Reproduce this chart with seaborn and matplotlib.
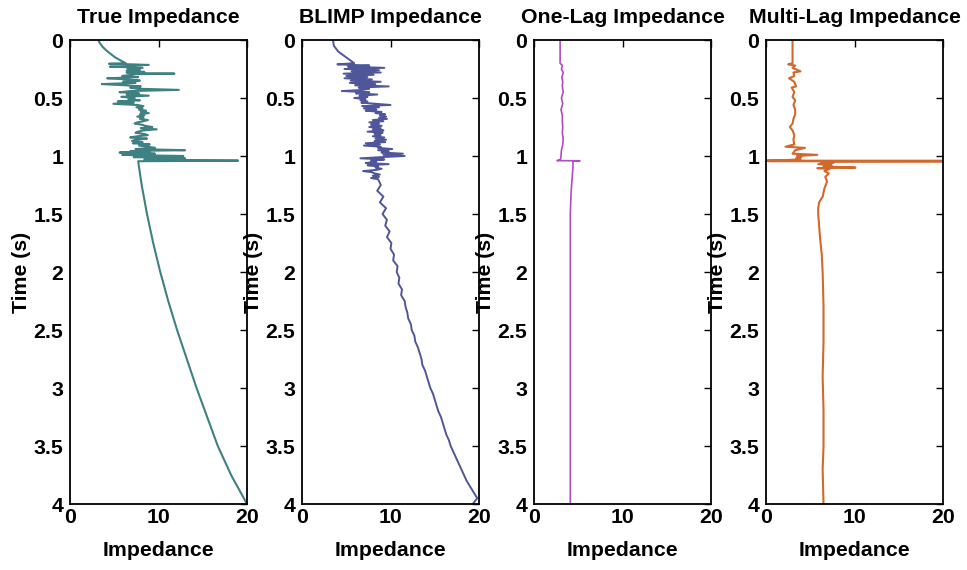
import numpy as np
import pandas as pd
import matplotlib
matplotlib.use("Agg")
import matplotlib.pyplot as plt
import seaborn as sns

# ---------------- data ----------------
titles = ["True Impedance", "BLIMP Impedance", "One-Lag Impedance", "Multi-Lag Impedance"]
colors = ["#3f8082", "#4f5699", "#b04cc0", "#d2682a"]
x_ticks = [0, 10, 20]
x_tick_labels = ["0", "10", "20"]
y_ticks = [0, 0.5, 1, 1.5, 2, 2.5, 3, 3.5, 4]
y_tick_labels = ["0", "0.5", "1", "1.5", "2", "2.5", "3", "3.5", "4"]

true_t = [0, 0.03, 0.06, 0.09, 0.12, 0.15, 0.18,
          0.20, 0.205, 0.21, 0.215, 0.22, 0.225, 0.23, 0.235, 0.24, 0.245,
          0.25, 0.255, 0.26, 0.265, 0.27, 0.275, 0.28, 0.285, 0.29, 0.295,
          0.30, 0.31, 0.32, 0.33, 0.34, 0.35, 0.36, 0.37, 0.38, 0.39,
          0.40, 0.41, 0.42, 0.43, 0.44, 0.45, 0.46, 0.47, 0.48, 0.49,
          0.50, 0.51, 0.52, 0.53, 0.54, 0.55, 0.56, 0.57, 0.58, 0.59,
          0.60, 0.61, 0.62, 0.63, 0.64, 0.65, 0.66, 0.67, 0.68, 0.69,
          0.70, 0.71, 0.72, 0.73, 0.74, 0.75, 0.76, 0.77, 0.78, 0.79,
          0.80, 0.81, 0.82, 0.83, 0.84, 0.85, 0.86, 0.87, 0.88, 0.89,
          0.90, 0.91, 0.92, 0.93, 0.94, 0.95, 0.955, 0.96, 0.965, 0.97,
          0.975, 0.98, 0.985, 0.99, 0.995, 1.00, 1.005, 1.01, 1.015, 1.02,
          1.025, 1.03, 1.035, 1.04, 1.045,
          1.25, 1.5, 1.75, 2.0, 2.25, 2.5, 2.75, 3.0, 3.25, 3.5, 3.75, 4.0]
true_v = [3.2, 3.4, 3.7, 4.1, 4.6, 5.1, 5.8,
          6.3, 4.4, 7.0, 8.9, 6.6, 7.3, 4.5, 6.9, 8.2, 6.5,
          6.8, 7.9, 7.6, 6.4, 7.2, 8.4, 6.4, 7.0, 11.8, 7.3,
          7.0, 5.9, 7.7, 4.2, 6.5, 7.9, 6.0, 7.4, 3.6, 6.2,
          8.0, 6.8, 7.6, 12.3, 6.9, 5.6, 7.8, 6.4, 8.9, 5.8,
          7.3, 6.6, 7.9, 5.4, 7.2, 4.9, 7.6, 8.3, 7.5, 8.2,
          7.8, 8.6, 8.0, 8.9, 7.9, 8.4, 7.6, 8.3, 7.9, 8.8,
          8.3, 7.6, 7.3, 8.1, 8.5, 9.3, 8.0, 9.8, 8.2, 7.7,
          7.4, 8.4, 8.8, 7.6, 6.8, 8.7, 7.4, 7.0, 8.2, 7.1,
          9.0, 7.8, 8.8, 9.6, 7.4, 13.0, 8.2, 6.8, 9.0, 5.6,
          8.0, 9.6, 7.5, 5.9, 8.8, 12.8, 8.1, 7.2, 10.5, 13.0,
          8.6, 8.4, 12.9, 19.0, 7.7,
          8.1, 8.7, 9.4, 10.2, 11.1, 12.1, 13.2, 14.3, 15.5, 16.7, 18.2, 20.0]

blimp_t = [0, 0.05, 0.10, 0.15,
           0.20, 0.21, 0.22, 0.23, 0.24, 0.25, 0.26, 0.27, 0.28, 0.29,
           0.30, 0.31, 0.32, 0.33, 0.34, 0.35, 0.36, 0.37, 0.38, 0.39,
           0.40, 0.41, 0.42, 0.43, 0.44, 0.45, 0.46, 0.47, 0.48, 0.49,
           0.50, 0.51, 0.52, 0.53, 0.54, 0.55, 0.56, 0.57, 0.58, 0.59,
           0.60, 0.61, 0.62, 0.63, 0.64, 0.65, 0.66, 0.67, 0.68, 0.69,
           0.70, 0.71, 0.72, 0.73, 0.74, 0.75, 0.76, 0.77, 0.78, 0.79,
           0.80, 0.81, 0.82, 0.83, 0.84, 0.85, 0.86, 0.87, 0.88, 0.89,
           0.90, 0.91, 0.92, 0.93, 0.94, 0.95, 0.96, 0.97, 0.98, 0.99,
           1.00, 1.01, 1.02, 1.03, 1.04, 1.05, 1.06, 1.07, 1.08, 1.09,
           1.10, 1.11, 1.12, 1.13, 1.14, 1.15, 1.16, 1.17, 1.18, 1.19, 1.20,
           1.25, 1.30, 1.35, 1.40, 1.45, 1.50, 1.55, 1.60, 1.65, 1.70,
           1.75, 1.80, 1.85, 1.90, 1.95, 2.00, 2.05, 2.10, 2.15, 2.20,
           2.25, 2.30, 2.35, 2.40, 2.45, 2.50, 2.55, 2.60, 2.65, 2.70,
           2.75, 2.80, 2.85, 2.90, 2.95, 3.00, 3.05, 3.10, 3.15, 3.20,
           3.25, 3.30, 3.35, 3.40, 3.45, 3.50, 3.55, 3.60, 3.65, 3.70,
           3.75, 3.80, 3.85, 3.90, 3.95, 4.00]
blimp_v = [3.5, 3.6, 4.1, 5.0,
           5.9, 4.0, 7.6, 5.2, 9.3, 4.8, 8.7, 5.6, 8.9, 4.7,
           8.1, 5.0, 7.4, 4.8, 7.9, 5.5, 8.9, 5.4, 8.3, 6.0,
           9.8, 6.4, 7.6, 6.9, 4.5, 7.6, 6.1, 8.5, 6.5, 7.4,
           5.9, 7.2, 6.6, 7.4, 6.7, 8.4, 10.0, 6.8, 8.7, 7.0,
           8.4, 7.2, 9.0, 8.3, 9.4, 8.8, 9.5, 8.7, 9.6, 8.0,
           9.2, 7.6, 8.7, 7.8, 9.0, 7.6, 8.9, 8.0, 9.2, 7.4,
           9.1, 8.2, 8.9, 8.0, 9.3, 8.3, 9.5, 8.2, 9.4, 7.2,
           8.8, 7.0, 8.9, 8.6, 10.2, 8.6, 9.8, 9.0, 11.4, 9.2,
           11.6, 8.9, 6.6, 9.3, 7.8, 8.4, 7.2, 9.8, 7.4, 8.6,
           8.3, 9.0, 8.4, 6.9, 7.9, 8.2, 8.8, 8.0, 8.7, 7.8, 8.6,
           8.9, 8.5, 9.2, 8.8, 9.5, 9.1, 9.6, 9.4, 9.9, 9.6,
           10.1, 10.0, 10.4, 10.3, 10.8, 10.7, 11.0, 10.9, 11.3, 11.2,
           11.6, 11.7, 11.9, 12.0, 12.3, 12.4, 12.7, 12.8, 13.1, 13.3,
           13.5, 13.6, 13.9, 14.1, 14.3, 14.5, 14.8, 15.0, 15.2, 15.4,
           15.7, 15.9, 16.1, 16.3, 16.6, 16.8, 17.1, 17.4, 17.7, 18.0,
           18.3, 18.6, 19.0, 19.4, 19.8, 19.3]

onelag_t = [0, 0.20, 0.22, 0.25, 0.28, 0.32, 0.36, 0.40, 0.45, 0.50, 0.55,
            0.60, 0.65, 0.70, 0.75, 0.80, 0.85, 0.90, 0.95, 1.00, 1.03,
            1.04, 1.041, 1.045, 1.10, 1.20, 1.30, 1.40, 1.50, 2.0, 2.5,
            3.0, 3.5, 4.0]
onelag_v = [2.95, 2.95, 3.2, 3.1, 3.3, 3.15, 3.25, 3.2, 3.3, 3.1, 3.25,
            3.05, 3.2, 3.2, 3.25, 3.2, 3.3, 3.25, 3.1, 3.05, 3.0,
            2.6, 5.2, 4.4, 4.4, 4.3, 4.2, 4.15, 4.1, 4.1, 4.1,
            4.1, 4.1, 4.1]

multilag_t = [0, 0.20, 0.21, 0.22, 0.24, 0.27, 0.28, 0.31, 0.33, 0.36, 0.40,
              0.41, 0.45, 0.49, 0.52, 0.56, 0.60, 0.64, 0.68, 0.72, 0.75,
              0.78, 0.82, 0.86, 0.90, 0.92, 0.93, 0.95, 0.98, 0.99, 1.00,
              1.01, 1.02, 1.03, 1.040, 1.042, 1.044, 1.046, 1.048,
              1.05, 1.06, 1.07, 1.08, 1.09, 1.10, 1.105, 1.11, 1.13, 1.15,
              1.18, 1.22, 1.28, 1.35, 1.40, 1.45, 1.50, 1.60, 1.70, 1.85,
              2.0, 2.3, 2.6, 2.9, 3.2, 3.5, 3.7, 4.0]
multilag_v = [3.0, 3.0, 2.5, 3.3, 3.0, 3.9, 3.1, 3.2, 2.6, 3.2, 3.4,
              2.9, 3.2, 3.0, 3.3, 3.1, 3.3, 3.3, 3.1, 3.0, 2.7,
              3.0, 3.2, 3.1, 3.2, 2.2, 4.4, 3.3, 3.0, 5.8, 3.5,
              4.0, 3.4, 3.9, 0.1, 20.0, 0.3, 20.0, 6.5,
              6.2, 7.6, 5.9, 7.4, 6.5, 10.1, 5.8, 7.2, 6.6, 7.1,
              6.7, 6.9, 6.6, 6.4, 6.0, 5.9, 5.9, 6.0, 6.1, 6.3,
              6.4, 6.5, 6.5, 6.4, 6.5, 6.5, 6.4, 6.5]

series_t = [true_t, blimp_t, onelag_t, multilag_t]
series_v = [true_v, blimp_v, onelag_v, multilag_v]
line_widths = [1.5, 1.4, 1.2, 1.5]

# ---------------- style ----------------
sns.set_style("white")
plt.rcParams["font.family"] = ["Liberation Sans", "DejaVu Sans"]
plt.rcParams["font.weight"] = "bold"
plt.rcParams["axes.titleweight"] = "bold"
plt.rcParams["axes.labelweight"] = "bold"
plt.rcParams["text.color"] = "black"
plt.rcParams["axes.labelcolor"] = "black"
plt.rcParams["xtick.color"] = "black"
plt.rcParams["ytick.color"] = "black"

W, H = 967, 570
fig = plt.figure(figsize=(W / 100, H / 100), dpi=100)
lefts = [70, 302, 534, 766]
ax_w = 177
top_px, bot_px = 40, 504
fs = 15.3

for i in range(4):
    ax = fig.add_axes([lefts[i] / W, 1 - bot_px / H, ax_w / W, (bot_px - top_px) / H])
    df = pd.DataFrame({"Impedance": series_v[i], "Time": series_t[i]})
    sns.lineplot(data=df, x="Impedance", y="Time", sort=False, estimator=None,
                 color=colors[i], lw=line_widths[i], ax=ax)
    ax.set_xlim(0, 20)
    ax.set_ylim(4, 0)
    ax.set_xticks(x_ticks)
    ax.set_xticklabels(x_tick_labels)
    ax.set_yticks(y_ticks)
    ax.set_yticklabels(y_tick_labels)
    ax.tick_params(direction="in", length=5, width=1, top=True, right=True,
                   labelsize=fs, colors="black")
    ax.tick_params(axis="y", pad=5)
    ax.tick_params(axis="x", pad=3)
    for s in ax.spines.values():
        s.set_linewidth(1.3)
        s.set_color("black")
    ax.set_title(titles[i], fontsize=fs, fontweight="bold", pad=12, color="black")
    ax.set_xlabel("Impedance", fontsize=fs, fontweight="bold", labelpad=10)
    ax.set_ylabel("Time (s)", fontsize=fs, fontweight="bold", labelpad=2)

fig.savefig("out.png", dpi=100, facecolor="white")
